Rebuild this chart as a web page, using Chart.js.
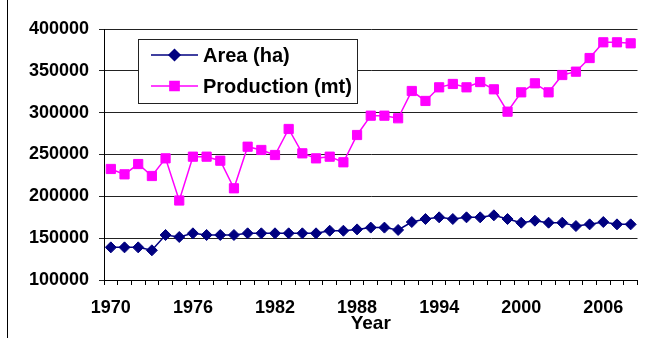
<!DOCTYPE html>
<html>
<head>
<meta charset="utf-8">
<script src="https://cdn.jsdelivr.net/npm/chart.js@4.4.1/dist/chart.umd.min.js"></script>
<style>
  html, body { margin: 0; padding: 0; background: #fff; }
  canvas { display: block; }
</style>
</head>
<body>
<canvas id="c" width="645" height="338"></canvas>
<script>
// Years on the category axis
const years = ['1970','1971','1972','1973','1974','1975','1976','1977','1978','1979',
               '1980','1981','1982','1983','1984','1985','1986','1987','1988','1989',
               '1990','1991','1992','1993','1994','1995','1996','1997','1998','1999',
               '2000','2001','2002','2003','2004','2005','2006','2007','2008'];

// Years that carry a visible tick label
const labelledYears = ['1970','1976','1982','1988','1994','2000','2006'];

// Harvested area (ha)
const area = [139000,139000,139000,135500,153800,151400,155800,153800,153800,153800,
              155800,155800,155800,155800,155800,155800,158900,158900,160500,162600,
              162600,159800,169300,172900,174900,172900,174900,174900,177300,172900,
              168500,170900,168500,168500,164500,166500,169300,166500,166500];

// Production (mt)
const production = [232700,226300,238600,224300,245400,195000,247400,247400,242600,209600,
                    259300,255400,249400,280500,251400,245400,247400,240700,273300,296400,
                    296400,293300,325900,314000,330300,334300,330300,336600,327900,301200,
                    324300,335100,324300,345000,349000,365300,384100,384100,382900];

const seriesNames = ['Area (ha)', 'Production (mt)'];

const FONT = "'Liberation Sans', Arial, sans-serif";

// Boxed legend drawn inside the plot, plus the left frame line
const framePlugin = {
  id: 'frameAndLegend',
  afterDraw(chart) {
    const ctx = chart.ctx;
    ctx.save();
    // left frame edge
    ctx.strokeStyle = '#000';
    ctx.lineWidth = 1;
    ctx.beginPath();
    ctx.moveTo(7.5, 0);
    ctx.lineTo(7.5, 338);
    ctx.stroke();

    // legend box
    const bx = 138.5, by = 39.5, bw = 219, bh = 64;
    ctx.fillStyle = '#fff';
    ctx.fillRect(bx, by, bw, bh);
    ctx.strokeStyle = '#222';
    ctx.strokeRect(bx, by, bw, bh);

    const rows = [55, 86];
    chart.data.datasets.forEach((ds, i) => {
      const y = rows[i];
      ctx.strokeStyle = ds.borderColor;
      ctx.lineWidth = ds.borderWidth;
      ctx.beginPath();
      ctx.moveTo(151, y);
      ctx.lineTo(198, y);
      ctx.stroke();
      ctx.fillStyle = ds.pointBackgroundColor;
      ctx.strokeStyle = ds.pointBorderColor;
      Chart.helpers.drawPoint(ctx, {
        pointStyle: ds.pointStyle,
        radius: ds.pointRadius,
        rotation: 0,
        borderWidth: ds.pointBorderWidth
      }, 174.5, y);
      ctx.fillStyle = '#000';
      ctx.font = "bold 20px " + FONT;
      ctx.textAlign = 'left';
      ctx.textBaseline = 'alphabetic';
      ctx.fillText(ds.label, 203, y + 7);
    });
    ctx.restore();
  }
};

new Chart(document.getElementById('c'), {
  type: 'line',
  data: {
    labels: years,
    datasets: [
      {
        label: seriesNames[0],
        data: area,
        borderColor: '#000080',
        backgroundColor: '#000080',
        borderWidth: 1.5,
        pointStyle: 'rectRot',
        pointRadius: 5.5,
        pointBorderWidth: 1,
        pointBackgroundColor: '#000080',
        pointBorderColor: '#000080',
        tension: 0
      },
      {
        label: seriesNames[1],
        data: production,
        borderColor: '#FF00FF',
        backgroundColor: '#FF00FF',
        borderWidth: 1.5,
        pointStyle: 'rect',
        pointRadius: 6.5,
        pointBorderWidth: 1,
        pointBackgroundColor: '#FF00FF',
        pointBorderColor: '#FF00FF',
        tension: 0
      }
    ]
  },
  options: {
    responsive: false,
    animation: false,
    layout: { padding: { left: 0, right: 2, top: 29, bottom: 0 } },
    plugins: {
      legend: { display: false },
      tooltip: { enabled: false }
    },
    scales: {
      x: {
        offset: true,
        grid: {
          offset: true,
          drawOnChartArea: false,
          drawTicks: true,
          tickLength: 5,
          color: '#000'
        },
        border: { color: '#000', width: 1 },
        ticks: {
          autoSkip: false,
          maxRotation: 0,
          padding: 12,
          color: '#000',
          font: { family: FONT, size: 18, weight: 'bold' },
          callback: function (v, i) {
            const lab = years[i];
            return labelledYears.includes(lab) ? lab : '';
          }
        },
        title: {
          display: true,
          text: 'Year',
          color: '#000',
          font: { family: FONT, size: 19, weight: 'bold', lineHeight: 1.2 },
          padding: { top: 0, bottom: 3 }
        },
        afterFit(scale) { scale.height = 58; }
      },
      y: {
        min: 100000,
        max: 400000,
        grid: {
          color: '#222',
          lineWidth: 1,
          drawTicks: true,
          tickLength: 5
        },
        border: { color: '#000', width: 1 },
        ticks: {
          stepSize: 50000,
          padding: 10,
          color: '#000',
          font: { family: FONT, size: 18, weight: 'bold' },
          callback: v => String(v)
        },
        afterFit(scale) { scale.width = 104; }
      }
    }
  },
  plugins: [framePlugin]
});
</script>
</body>
</html>
